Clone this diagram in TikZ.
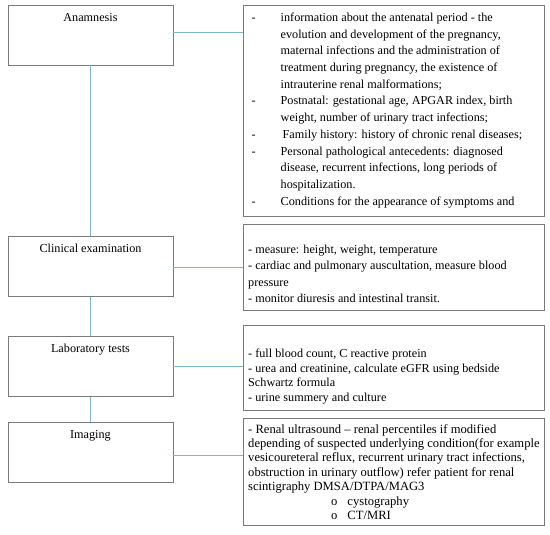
\documentclass[tikz,border=0pt]{standalone}
\usepackage{fontspec}
\setmainfont{Liberation Serif}
\definecolor{boxgray}{HTML}{7A7A7A}
\definecolor{linkblue}{HTML}{7DB4C8}
\tikzset{
  leftbox/.style={draw=boxgray, line width=0.8pt, minimum width=165pt, minimum height=60pt, inner sep=0pt},
  rightbox/.style={draw=boxgray, line width=0.8pt, inner sep=0pt},
  title/.style={font=\fontsize{12.2}{13}\selectfont, inner sep=0pt, anchor=center},
  body/.style={font=\fontsize{12.2}{13}\selectfont, inner sep=0pt, anchor=base west},
  link/.style={draw=linkblue, line width=1pt}
}
\begin{document}
\begin{tikzpicture}[x=1pt, y=-1pt]
\useasboundingbox (0,0) rectangle (550,535);
% left boxes
\node[leftbox] (an) at (90.5,35) {};
\node[leftbox] (ce) at (90.5,266.3) {};
\node[leftbox] (lt) at (90.5,366.8) {};
\node[leftbox] (im) at (90.5,452.8) {};
\node[title] (ant) at ([yshift=-12.5pt]an.north) {Anamnesis};
\node[title] (cet) at ([yshift=-12.5pt]ce.north) {Clinical examination};
\node[title] (ltt) at ([yshift=-13pt]lt.north) {Laboratory tests};
\node[title] (imt) at ([yshift=-13pt]im.north) {Imaging};
% right boxes
\node[rightbox, minimum width=301pt, minimum height=211.7pt] (anr) at (393.5,110.85) {};
\node[rightbox, minimum width=301pt, minimum height=86pt] (cer) at (393.5,267) {};
\node[rightbox, minimum width=301pt, minimum height=85.7pt] (ltr) at (393.5,367.85) {};
\node[rightbox, minimum width=301pt, minimum height=107.4pt] (imr) at (393.5,472) {};
% connectors
\draw[link] (an.south) -- (ce.north);
\draw[link] (ce.south) -- (lt.north);
\draw[link] (lt.south) -- (im.north);
\draw[link] ([yshift=2.3pt]an.east) -- ([yshift=2.3pt]an.east -| anr.west);
\draw[link] ([yshift=-1.3pt]ce.east) -- ([yshift=-1.3pt]ce.east -| cer.west);
\draw[link] (lt.east) -- (lt.east -| ltr.west);
\draw[link] ([yshift=-2.2pt]im.east) -- ([yshift=-2.2pt]im.east -| imr.west);
% texts
\node[body] (antx) at (251.5,21.5) {\fontsize{12.2}{16.7}\selectfont
\begin{tabular}[t]{@{}p{29pt}@{}l@{}}
- & information about the antenatal period - the\\
  & evolution and development of the pregnancy,\\
  & maternal infections and the administration of\\
  & treatment during pregnancy, the existence of\\
  & intrauterine renal malformations;\\
- & Postnatal: gestational age, APGAR index, birth\\
  & weight, number of urinary tract infections;\\
- & \hspace{2pt}Family history: history of chronic renal diseases;\\
- & Personal pathological antecedents: diagnosed\\
  & disease, recurrent infections, long periods of\\
  & hospitalization.\\
- & Conditions for the appearance of symptoms and
\end{tabular}};
\node[body] (cetx) at (248,253.5) {\fontsize{12.2}{16.3}\selectfont
\begin{tabular}[t]{@{}l@{}}
- measure: height, weight, temperature\\
- cardiac and pulmonary auscultation, measure blood\\
pressure\\
- monitor diuresis and intestinal transit.
\end{tabular}};
\node[body] (lttx) at (248,357.5) {\fontsize{12.2}{14.6}\selectfont
\begin{tabular}[t]{@{}l@{}}
- full blood count, C reactive protein\\
- urea and creatinine, calculate eGFR using bedside\\
Schwartz formula\\
- urine summery and culture
\end{tabular}};
\node[body] (imtx) at (248,433) {\fontsize{12.6}{14.4}\selectfont
\begin{tabular}[t]{@{}l@{}}
- Renal ultrasound – renal percentiles if modified\\
depending of suspected underlying condition(for example\\
vesicoureteral reflux, recurrent urinary tract infections,\\
obstruction in urinary outflow) refer patient for renal\\
scintigraphy DMSA/DTPA/MAG3\\
\hspace{83pt}o\hspace{10pt}cystography\\
\hspace{83pt}o\hspace{10pt}CT/MRI
\end{tabular}};
\end{tikzpicture}
\end{document}
